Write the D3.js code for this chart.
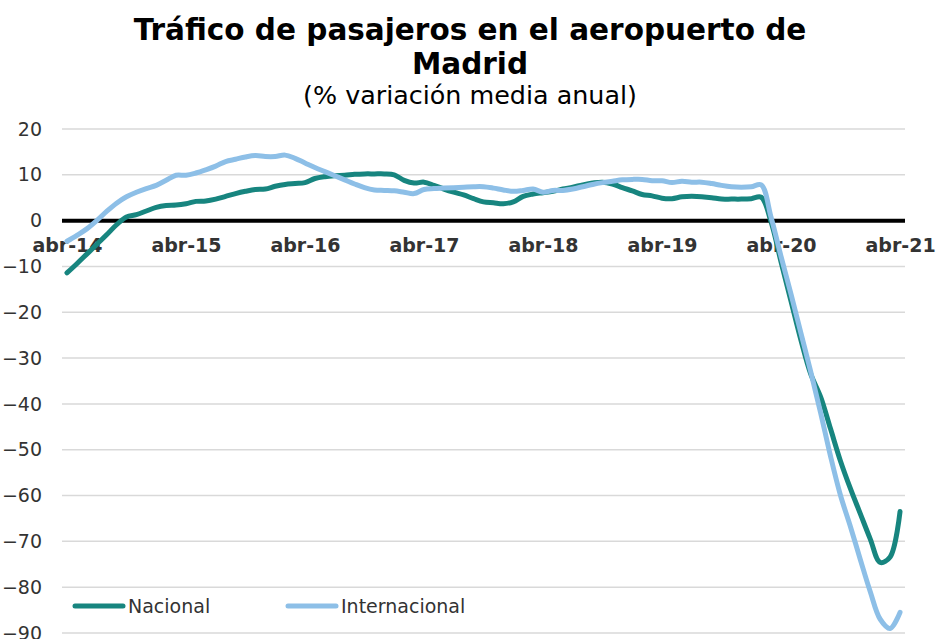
<!DOCTYPE html>
<html>
<head>
<meta charset="utf-8">
<script src="https://cdnjs.cloudflare.com/ajax/libs/d3/7.8.5/d3.min.js"></script>
<style>
  body { margin: 0; background: #fff; }
  text { font-family: "DejaVu Sans", Verdana, sans-serif; }
</style>
</head>
<body>
<div id="chart"></div>
<script>
// months abr-14 .. abr-21 (category axis)
var mesesAbr = ["abr","may","jun","jul","ago","sep","oct","nov","dic","ene","feb","mar"];
var meses = [];
for (var k = 0; k < 85; k++) {
  var yr = 14 + Math.floor((k + 3) / 12);
  meses.push(mesesAbr[k % 12] + "-" + yr);
}

var xTickLabels = ["abr-14","abr-15","abr-16","abr-17","abr-18","abr-19","abr-20","abr-21"];
var yTicks = [20, 10, 0, -10, -20, -30, -40, -50, -60, -70, -80, -90];

// % variación media anual
var nacional = [
  -11.4, -9.4, -7.3, -5.2, -3.1, -0.9, 0.8, 1.3, 2.1, 2.9, 3.3, 3.4,
  3.7, 4.2, 4.3, 4.7, 5.3, 5.9, 6.4, 6.8, 6.9, 7.5, 7.9, 8.1,
  8.3, 9.2, 9.6, 9.8, 9.9, 10.1, 10.2, 10.2, 10.2, 10.0, 8.8, 8.2,
  8.4, 7.7, 6.9, 6.2, 5.6, 4.8, 4.1, 3.9, 3.7, 4.1, 5.3, 5.8,
  6.1, 6.4, 6.9, 7.3, 7.8, 8.2, 8.4, 8.0, 7.2, 6.5, 5.7, 5.4,
  4.9, 4.8, 5.2, 5.3, 5.2, 5.0, 4.7, 4.7, 4.7, 4.8, 5.1, -0.3,
  -9, -17.5, -26, -33.5, -38.5, -45.5, -52.5, -58.5, -64, -69.5, -74.6, -73.4,
  -63.5
];
var internacional = [
  -4.5, -3.2, -1.8, 0, 2.0, 3.8, 5.2, 6.2, 7.0, 7.7, 8.8, 9.9,
  9.9, 10.4, 11.1, 11.9, 12.9, 13.4, 13.9, 14.2, 14.0, 14.0, 14.3, 13.6,
  12.6, 11.6, 10.7, 9.8, 8.9, 8.0, 7.2, 6.7, 6.6, 6.5, 6.2, 5.9,
  6.8, 7.0, 7.1, 7.2, 7.3, 7.4, 7.4, 7.1, 6.7, 6.4, 6.6, 6.9,
  6.2, 6.6, 6.6, 6.9, 7.4, 7.9, 8.3, 8.6, 8.9, 9.0, 9.0, 8.7,
  8.7, 8.3, 8.6, 8.4, 8.4, 8.1, 7.7, 7.4, 7.3, 7.4, 7.8, 0.7,
  -7.8, -16, -24.5, -33, -42, -51.5, -60, -66.8, -74, -81, -87, -89,
  -85.5
];

var series = [
  {name: "Nacional", values: nacional, color: "#17857f"},
  {name: "Internacional", values: internacional, color: "#8dbfe7"}
];

var W = 938, H = 639;
var plotLeft = 62, plotRight = 905, plotTop = 129, plotBottom = 633;

var svg = d3.select("#chart").append("svg")
  .attr("width", W).attr("height", H);

var x = d3.scalePoint().domain(meses).range([plotLeft, plotRight]).padding(0.5);
var y = d3.scaleLinear().domain([-90, 20]).range([plotBottom, plotTop]);

// title
svg.append("text").attr("x", 470).attr("y", 40).attr("text-anchor", "middle")
  .style("font-weight", "bold").style("font-size", "29.5px").attr("fill", "#000")
  .text("Tráfico de pasajeros en el aeropuerto de");
svg.append("text").attr("x", 470).attr("y", 74).attr("text-anchor", "middle")
  .style("font-weight", "bold").style("font-size", "29.5px").attr("fill", "#000")
  .text("Madrid");
svg.append("text").attr("x", 470).attr("y", 104).attr("text-anchor", "middle")
  .style("font-size", "25.4px").attr("fill", "#000")
  .text("(% variación media anual)");

// gridlines
svg.append("g")
  .selectAll("line")
  .data(yTicks.filter(function(d){ return d !== 0; }))
  .enter().append("line")
    .attr("x1", plotLeft).attr("x2", plotRight)
    .attr("y1", function(d){ return y(d); })
    .attr("y2", function(d){ return y(d); })
    .attr("stroke", "#d9d9d9").attr("stroke-width", 1.5);

// y axis labels
var yAxis = svg.append("g")
  .attr("transform", "translate(" + plotLeft + ",0)")
  .call(d3.axisLeft(y).tickValues(yTicks).tickSize(0).tickPadding(20));
yAxis.select(".domain").remove();
yAxis.selectAll("text")
  .style("font-size", "19px").style("font-family", "'DejaVu Sans', Verdana, sans-serif")
  .attr("fill", "#333");

// x axis labels (sit just under the zero line)
var xAxis = svg.append("g")
  .attr("transform", "translate(0," + y(0) + ")")
  .call(d3.axisBottom(x).tickValues(xTickLabels).tickSize(0).tickPadding(0));
xAxis.select(".domain").remove();
xAxis.selectAll("text")
  .attr("y", 31).attr("dy", null)
  .style("font-size", "19px").style("font-weight", "bold")
  .style("font-family", "'DejaVu Sans', Verdana, sans-serif")
  .attr("fill", "#333");

// zero line
svg.append("line")
  .attr("x1", plotLeft).attr("x2", plotRight)
  .attr("y1", y(0)).attr("y2", y(0))
  .attr("stroke", "#000").attr("stroke-width", 4);

// lines
var line = d3.line()
  .x(function(d, i){ return x(meses[i]); })
  .y(function(d){ return y(d); })
  .curve(d3.curveCatmullRom.alpha(0.5));

svg.append("g")
  .selectAll("path")
  .data(series)
  .enter().append("path")
    .attr("d", function(s){ return line(s.values); })
    .attr("fill", "none")
    .attr("stroke", function(s){ return s.color; })
    .attr("stroke-width", 5)
    .attr("stroke-linejoin", "round")
    .attr("stroke-linecap", "round");

// legend
var legendX = [73, 286];
var legend = svg.append("g").selectAll("g")
  .data(series)
  .enter().append("g")
    .attr("transform", function(d, i){ return "translate(" + legendX[i] + ",606)"; });
legend.append("line")
  .attr("x1", 2).attr("x2", 50)
  .attr("stroke", function(d){ return d.color; })
  .attr("stroke-width", 5).attr("stroke-linecap", "round");
legend.append("text")
  .attr("x", 55).attr("y", 6.5)
  .style("font-size", "19px").attr("fill", "#333")
  .text(function(d){ return d.name; });
</script>
</body>
</html>
